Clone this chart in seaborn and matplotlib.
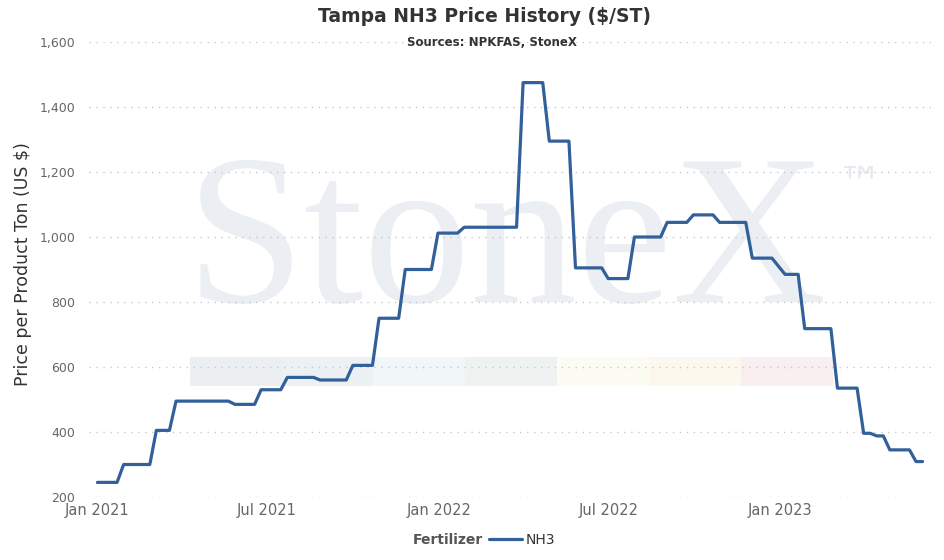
import matplotlib
matplotlib.use("Agg")
import matplotlib.pyplot as plt
import matplotlib.patches as mpatches
import matplotlib.ticker as mticker
import seaborn as sns
import pandas as pd
import numpy as np

# ---------------- data ----------------
start_date = "2021-01-01"
prices = [
    245, 245, 245, 245,
    300, 300, 300, 300, 300,
    405, 405, 405,
    495, 495, 495, 495, 495, 495, 495, 495, 495,
    485, 485, 485, 485,
    530, 530, 530, 530,
    568, 568, 568, 568, 568,
    560, 560, 560, 560, 560,
    605, 605, 605, 605,
    750, 750, 750, 750,
    900, 900, 900, 900, 900,
    1012, 1012, 1012, 1012,
    1030, 1030, 1030, 1030, 1030, 1030, 1030, 1030, 1030,
    1475, 1475, 1475, 1475,
    1295, 1295, 1295, 1295,
    905, 905, 905, 905, 905,
    872, 872, 872, 872,
    1000, 1000, 1000, 1000, 1000,
    1045, 1045, 1045, 1045,
    1068, 1068, 1068, 1068,
    1045, 1045, 1045, 1045, 1045,
    935, 935, 935, 935,
    910,
    885, 885, 885,
    718, 718, 718, 718, 718,
    535, 535, 535, 535,
    396, 396,
    388, 388,
    345, 345, 345, 345,
    309, 309,
]
series_name = "NH3"
legend_title = "Fertilizer"
y_ticks = [200, 400, 600, 800, 1000, 1200, 1400, 1600]
x_tick_dates = ["2021-01-01", "2021-07-01", "2022-01-01", "2022-07-01", "2023-01-01"]
x_tick_labels = ["Jan 2021", "Jul 2021", "Jan 2022", "Jul 2022", "Jan 2023"]
title = "Tampa NH3 Price History ($/ST)"
subtitle = "Sources: NPKFAS, StoneX"
y_label = "Price per Product Ton (US $)"

dates = pd.date_range(start_date, periods=len(prices), freq="7D")
df = pd.DataFrame({"Date": dates, "Price": prices, "Fertilizer": series_name})

# ---------------- style ----------------
sns.set_theme(style="white")
plt.rcParams["font.family"] = ["DejaVu Sans"]

W, H = 945, 560
fig = plt.figure(figsize=(W / 100, H / 100), dpi=100)
fx = lambda px: px / W
fy = lambda py: 1 - py / H

ax = fig.add_axes([fx(89), fy(497), (931 - 89) / W, (497 - 42) / H])
ax.set_facecolor("white")

# watermark band
band_edges = [190, 282, 373, 465, 557, 649, 741, 833]
band_colors = ["#ECEFF2", "#EDF1F4", "#F1F6F9", "#EEF3F1", "#FCFCF3", "#FCF8EE", "#F9EEF0"]
for i, c in enumerate(band_colors):
    r = mpatches.Rectangle((fx(band_edges[i]), fy(386)), (band_edges[i + 1] - band_edges[i]) / W,
                           (386 - 357) / H, transform=fig.transFigure, facecolor=c,
                           edgecolor="none", zorder=0.1, clip_on=False)
    ax.add_patch(r)

# watermark text
ax.text(fx(186), fy(302), "StoneX", transform=fig.transFigure, family="Liberation Serif",
        fontsize=154, color="#EBEEF2", ha="left", va="baseline", zorder=0.2, clip_on=False)
ax.text(fx(838), fy(164), "™", transform=fig.transFigure, family="DejaVu Sans",
        fontsize=32, color="#E6E9ED", ha="left", va="top", zorder=0.2, clip_on=False)

# line
sns.lineplot(data=df, x="Date", y="Price", hue="Fertilizer", palette=["#31609A"],
             linewidth=2.3, ax=ax, zorder=3)

# axes
ax.set_ylim(200, 1600)
ax.set_xlim(pd.Timestamp("2020-12-23"), pd.Timestamp("2023-06-11"))
ax.set_yticks(y_ticks)
ax.yaxis.set_major_formatter(mticker.FuncFormatter(lambda v, p: f"{int(v):,}"))
ax.set_xticks(pd.to_datetime(x_tick_dates))
ax.set_xticklabels(x_tick_labels)
ax.tick_params(axis="y", length=0, pad=10, labelsize=9, labelcolor="#666666")
ax.tick_params(axis="x", length=0, pad=4, labelsize=10.5, labelcolor="#666666")
for s in ax.spines.values():
    s.set_visible(False)
ax.set_axisbelow(True)
ax.grid(axis="y", color="#C8C8C8", linestyle=(0, (1, 4)), linewidth=1)
ax.grid(axis="x", visible=False)
ax.set_xlabel("")
ax.set_ylabel(y_label, fontsize=12.5, color="#333333")
ax.yaxis.set_label_coords(-0.068, 0.513)

# titles
fig.text(fx(485), fy(17), title, ha="center", va="center", fontsize=13.5,
         weight="bold", color="#333333")
fig.text(fx(492), fy(42), subtitle, ha="center", va="center", fontsize=8.5,
         weight="bold", color="#333333")

# legend
handles, labels = ax.get_legend_handles_labels()
ax.legend(handles, labels, loc="center left", bbox_to_anchor=(fx(489), fy(540)),
          bbox_transform=fig.transFigure, frameon=False, handlelength=2.4,
          handletextpad=0.25, borderpad=0, borderaxespad=0, fontsize=10,
          labelcolor="#333333")
fig.text(fx(483), fy(540), legend_title, ha="right", va="center", fontsize=10,
         weight="bold", color="#555555")

fig.savefig("out.png", dpi=100)
